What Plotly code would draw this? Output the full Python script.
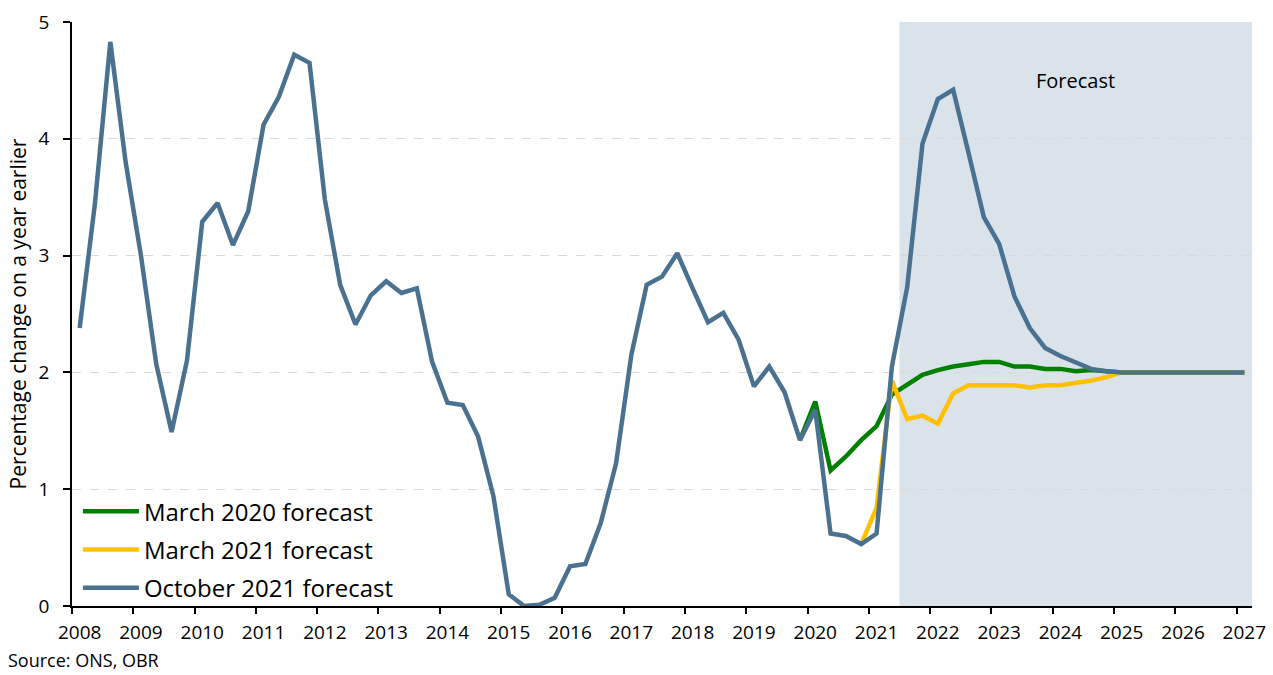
import plotly.graph_objects as go

# Quarterly index: 0 = 2008 Q1 ... 76 = 2027 Q1
years = list(range(2008, 2028))
year_labels = [str(y) for y in years]
n_quarters = 77
quarters = list(range(n_quarters))

october_2021 = [2.38, 3.45, 4.83, 3.80, 3.00, 2.07, 1.49, 2.10,
                3.29, 3.45, 3.09, 3.38, 4.12, 4.36, 4.72, 4.65,
                3.48, 2.75, 2.41, 2.66, 2.78, 2.68, 2.72, 2.09,
                1.74, 1.72, 1.45, 0.94, 0.10, 0.00, 0.01, 0.07,
                0.34, 0.36, 0.71, 1.22, 2.15, 2.75, 2.82, 3.02,
                2.72, 2.43, 2.51, 2.28, 1.88, 2.05, 1.83, 1.42,
                1.68, 0.62, 0.60, 0.53, 0.62, 2.05, 2.73, 3.96,
                4.34, 4.42, 3.88, 3.33, 3.10, 2.65, 2.38, 2.21,
                2.14, 2.09, 2.03, 2.01, 2.00, 2.00, 2.00, 2.00,
                2.00, 2.00, 2.00, 2.00, 2.00]

march_2020_start = 47
march_2020 = [1.42, 1.75, 1.16, 1.28, 1.42, 1.54, 1.81, 1.90,
              1.98, 2.02, 2.05, 2.07, 2.09, 2.09, 2.05, 2.05,
              2.03, 2.03, 2.01, 2.02, 2.01, 2.00, 2.00, 2.00,
              2.00, 2.00, 2.00, 2.00, 2.00, 2.00]

march_2021_start = 51
march_2021 = [0.53, 0.84, 1.93, 1.60, 1.63, 1.56, 1.82, 1.89,
              1.89, 1.89, 1.89, 1.87, 1.89, 1.89, 1.91, 1.93,
              1.96, 2.00, 2.00, 2.00, 2.00, 2.00, 2.00, 2.00,
              2.00, 2.00]

forecast_start = 54  # 2021 Q3

FONT = "Open Sans"
BLUE = "#4a7290"
GREEN = "#008000"
YELLOW = "#ffc000"
LW = 4.5

fig = go.Figure()
fig.add_trace(go.Scatter(
    x=quarters[march_2020_start:march_2020_start + len(march_2020)], y=march_2020,
    mode="lines", name="March 2020 forecast", legendgroup="a",
    line=dict(color=GREEN, width=LW)))
fig.add_trace(go.Scatter(
    x=quarters[march_2021_start:march_2021_start + len(march_2021)], y=march_2021,
    mode="lines", name="March 2021 forecast", legendgroup="b",
    line=dict(color=YELLOW, width=LW)))
fig.add_trace(go.Scatter(
    x=quarters, y=october_2021,
    mode="lines", name="October 2021 forecast", legendgroup="c",
    line=dict(color=BLUE, width=LW)))

fig.add_shape(type="rect", xref="x", yref="paper",
              x0=forecast_start - 0.5, x1=n_quarters - 0.5, y0=0, y1=1,
              fillcolor="#dae2ea", line=dict(width=0), layer="below")

fig.add_annotation(x=65, y=4.5, xref="x", yref="y", text="Forecast",
                   showarrow=False, font=dict(family=FONT, size=20, color="black"))
fig.add_annotation(x=-0.055, y=-0.092, xref="paper", yref="paper",
                   xanchor="left", yanchor="middle", text="Source: ONS, OBR",
                   showarrow=False, borderpad=0,
                   font=dict(family=FONT, size=18, color="black"))

fig.update_layout(
    width=1273, height=675,
    margin=dict(l=72, r=21, t=22, b=69),
    paper_bgcolor="white", plot_bgcolor="white",
    font=dict(family=FONT, size=19, color="black"),
    showlegend=True,
    legend=dict(x=0.005, y=0.2, xanchor="left", yanchor="top",
                bgcolor="rgba(0,0,0,0)", font=dict(family=FONT, size=24),
                tracegroupgap=4, itemwidth=56),
    xaxis=dict(range=[-0.5, n_quarters - 0.5], automargin=False,
               tickvals=[4 * i for i in range(len(years))], ticktext=year_labels,
               ticks="", showgrid=False, zeroline=False,
               showline=True, linecolor="black", linewidth=1.5,
               tickfont=dict(family=FONT, size=19), ticklabelstandoff=8,
               minor=dict(tickvals=[4 * i - 0.5 for i in range(len(years))],
                          ticks="outside", ticklen=6, tickcolor="black",
                          tickwidth=1.5, showgrid=False)),
    yaxis=dict(range=[0, 5], tickvals=[0, 1, 2, 3, 4, 5], automargin=False,
               ticks="outside", ticklen=7, tickcolor="black", tickwidth=1.5,
               showline=True, linecolor="black", linewidth=1.5,
               showgrid=True, gridcolor="#d9d9d9", griddash="dash", gridwidth=1,
               zeroline=False, tickfont=dict(family=FONT, size=19),
               ticklabelstandoff=10,
               title=dict(text="Percentage change on a year earlier",
                          font=dict(family=FONT, size=21), standoff=6)),
)

fig.write_html("out.html", config={"displayModeBar": False},
               post_script="document.body.style.margin='0';")
